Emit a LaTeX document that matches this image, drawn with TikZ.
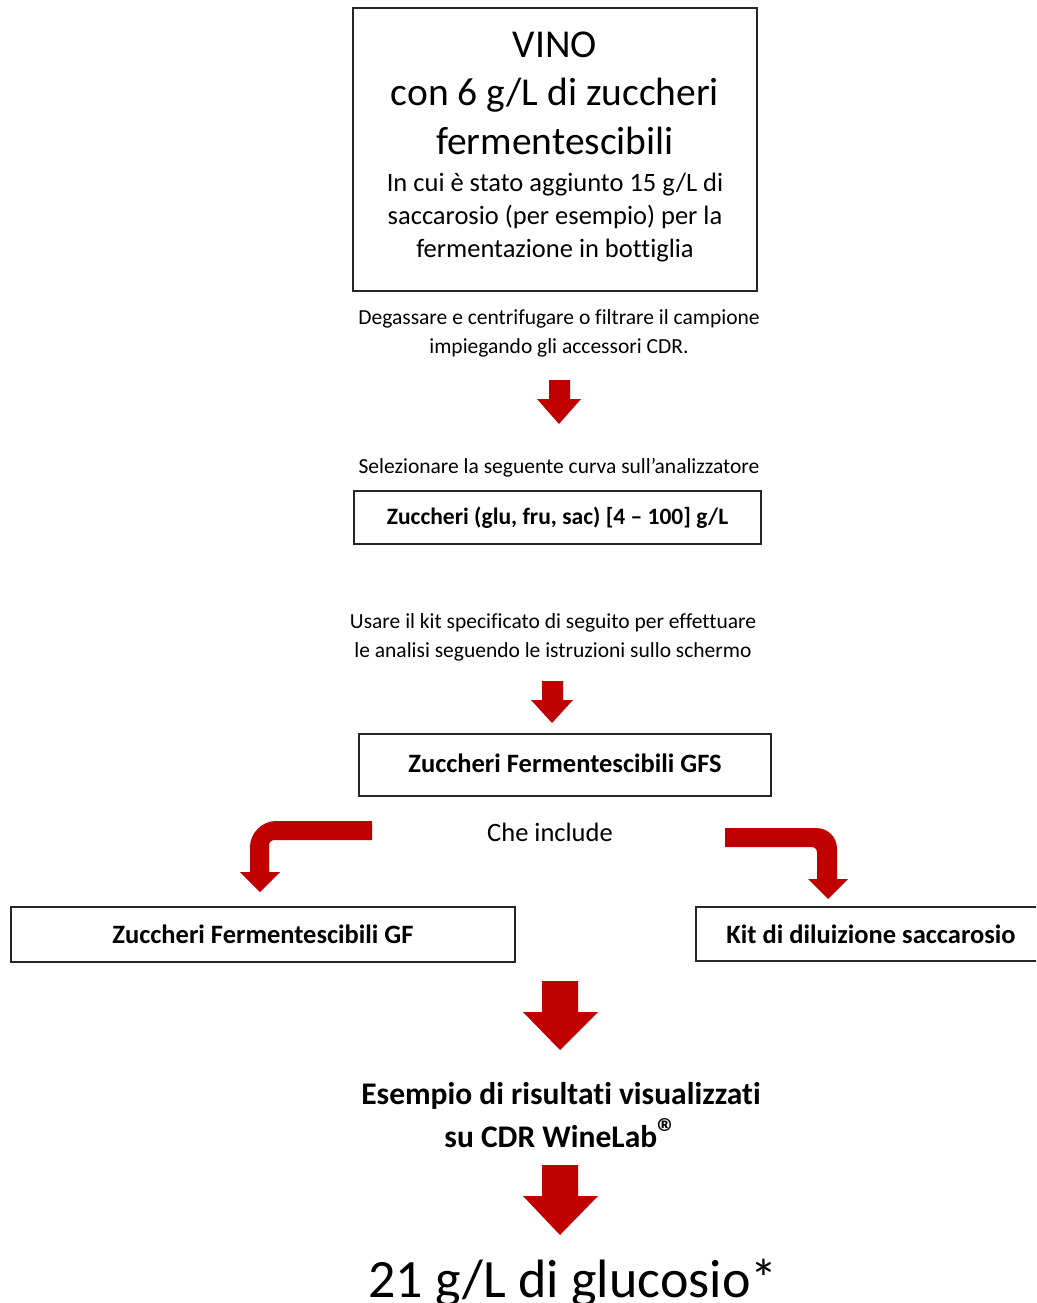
\documentclass[tikz,border=0pt]{standalone}
\usepackage{fontspec}
\setmainfont{Carlito}[Ligatures={NoCommon}]
\definecolor{arrowred}{HTML}{C00000}
\tikzset{
  box/.style={draw=black!85, line width=1.2pt, rectangle, inner sep=0pt},
  txt/.style={inner sep=0pt, align=center, text=black},
  redarrow/.style={fill=arrowred, draw=none},
}
\begin{document}
\begin{tikzpicture}[x=1pt,y=-1pt]
\useasboundingbox (0,0) rectangle (1036,1303);
\clip (0,0) rectangle (1036,1303);
% top box
\node[box, minimum width=404pt, minimum height=283pt] (vino) at (555,149.5) {};
\node[txt, font=\fontsize{39.5}{48.5}\selectfont] (vinotitle) at (555,93) {VINO\\con 6 g/L di zuccheri\\fermentescibili};
\node[txt, font=\fontsize{26.5}{33}\selectfont] (vinosub) at (555,218) {In cui è stato aggiunto 15 g/L di\\saccarosio (per esempio) per la\\fermentazione in bottiglia};
% step 1
\node[txt, font=\fontsize{21.5}{29}\selectfont] (degas) at (559,333.5) {Degassare e centrifugare o filtrare il campione\\impiegando gli accessori CDR.};
\fill[redarrow] (549,380) -- (570,380) -- (570,399) -- (581,399) -- (559,424) -- (537,399) -- (549,399) -- cycle;
\node[txt, font=\fontsize{21.5}{29}\selectfont] (select) at (559,468) {Selezionare la seguente curva sull’analizzatore};
\node[box, minimum width=407pt, minimum height=53pt, font=\fontsize{23.5}{26}\selectfont\bfseries] (curve) at (557.5,517.5) {Zuccheri (glu, fru, sac) [4 – 100] g/L};
% step 2
\node[txt, font=\fontsize{21.5}{29}\selectfont] (kit) at (553,637.5) {Usare il kit specificato di seguito per effettuare\\le analisi seguendo le istruzioni sullo schermo};
\fill[redarrow] (542,681) -- (563,681) -- (563,700) -- (573,700) -- (552,723) -- (531,700) -- (542,700) -- cycle;
\node[box, minimum width=412pt, minimum height=62pt, font=\fontsize{26.5}{30}\selectfont\bfseries] (gfs) at (565,765) {\raisebox{3pt}{Zuccheri Fermentescibili GFS}};
\node[txt, font=\fontsize{26.5}{30}\selectfont] (include) at (550,832) {Che include};
% bent arrows
\fill[redarrow] (372,821) -- (276,821) .. controls (262,821) and (250,833) .. (250,847) -- (250,872) -- (240,872) -- (260,892) -- (280,872) -- (269,872) -- (269,846) .. controls (269,842) and (271,840) .. (275,840) -- (372,840) -- cycle;
\fill[redarrow] (725,828) -- (816,828) .. controls (828,828) and (837,837) .. (837,849) -- (837,879) -- (848,879) -- (828,899) -- (808,879) -- (817,879) -- (817,853) .. controls (817,849) and (815,847) .. (811,847) -- (725,847) -- cycle;
\node[box, minimum width=504pt, minimum height=55pt, font=\fontsize{26.5}{30}\selectfont\bfseries] (gf) at (263,934.5) {Zuccheri Fermentescibili GF};
\node[box, minimum width=350pt, minimum height=54pt, font=\fontsize{26.5}{30}\selectfont\bfseries] (dil) at (871,934) {Kit di diluizione saccarosio};
% results
\fill[redarrow] (542,981) -- (578,981) -- (578,1012) -- (598,1012) -- (560,1050) -- (523,1012) -- (542,1012) -- cycle;
\node[txt, font=\fontsize{31.5}{43}\selectfont\bfseries] (example) at (561,1115.5) {Esempio di risultati visualizzati\\su CDR WineLab{\fontsize{40}{40}\selectfont\raisebox{1pt}{®}}};
\fill[redarrow] (542,1165) -- (578,1165) -- (578,1196) -- (598,1196) -- (560,1235) -- (523,1196) -- (542,1196) -- cycle;
\node[txt, font=\fontsize{54}{60}\selectfont] (result) at (573,1283) {21 g/L di glucosio*};
\end{tikzpicture}
\end{document}
